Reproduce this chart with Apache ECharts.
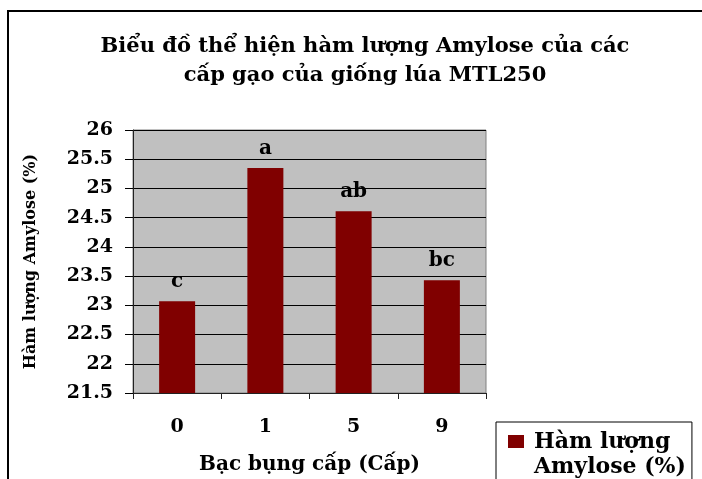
<!DOCTYPE html>
<html><head><meta charset="utf-8">
<script src="https://cdn.jsdelivr.net/npm/echarts@6/dist/echarts.min.js"></script>
<style>html,body{margin:0;padding:0;background:#fff}#c{width:702px;height:479px}</style>
</head><body><div id="c"></div>
<script>
var categories = ['0', '1', '5', '9'];
var amylose = [23.07, 25.35, 24.61, 23.43];
var letters = ['c', 'a', 'ab', 'bc'];
var yTicks = { min: 21.5, max: 26, interval: 0.5 };
var seriesName = 'Hàm lượng\nAmylose (%)';

var F = '"DejaVu Serif", "Liberation Serif", serif';
var chart = echarts.init(document.getElementById('c'), null, { renderer: 'canvas' });
chart.setOption({
  animation: false,
  backgroundColor: '#fff',
  graphic: [{
    type: 'rect', shape: { x: 8, y: 11, width: 720, height: 500 },
    style: { fill: 'none', stroke: '#000', lineWidth: 2 }, silent: true, z: -1
  }],
  title: {
    text: 'Biểu đồ thể hiện hàm lượng Amylose của các\ncấp gạo của giống lúa MTL250',
    left: 360, textAlign: 'center', top: 27,
    textStyle: { fontFamily: F, fontWeight: 'bold', fontSize: 21, lineHeight: 29, color: '#000' }
  },
  legend: {
    left: 496, top: 422,
    orient: 'vertical',
    borderColor: '#000', borderWidth: 1,
    padding: [8, 6, 20, 12],
    itemWidth: 21, itemHeight: 40, itemGap: 10,
    textStyle: { fontFamily: F, fontWeight: 'bold', fontSize: 22, lineHeight: 25, color: '#000' },
    data: [{ name: seriesName, icon: 'path://M0,0L16,0L16,13L0,13Z M0,40L21,40' }]
  },
  grid: { left: 133, top: 130, width: 353, height: 263, containLabel: false,
    outerBoundsMode: 'none',
    show: true, backgroundColor: '#c0c0c0', borderColor: '#808080', borderWidth: 1 },
  xAxis: {
    type: 'category', data: categories,
    name: 'Bạc bụng cấp (Cấp)', nameLocation: 'middle', nameGap: 62,
    nameTextStyle: { fontFamily: F, fontWeight: 'bold', fontSize: 20, color: '#000' },
    axisLine: { lineStyle: { color: '#222', width: 1 } },
    axisTick: { show: true, length: 6, lineStyle: { color: '#222' } },
    axisLabel: { fontFamily: F, fontWeight: 'bold', fontSize: 19, color: '#000', margin: 25 }
  },
  yAxis: {
    type: 'value', min: yTicks.min, max: yTicks.max, interval: yTicks.interval,
    name: 'Hàm lượng Amylose (%)', nameLocation: 'middle', nameGap: 94, nameRotate: 90,
    nameTextStyle: { fontFamily: F, fontWeight: 'bold', fontSize: 16, color: '#000' },
    axisLine: { show: true, lineStyle: { color: '#222', width: 1 } },
    axisTick: { show: true, length: 8, lineStyle: { color: '#000' } },
    axisLabel: { fontFamily: F, fontWeight: 'bold', fontSize: 19, color: '#000', margin: 20,
      formatter: function (v) { return String(v); } },
    splitLine: { show: true, lineStyle: { color: '#000', width: 1 } }
  },
  series: [{
    name: seriesName, type: 'bar', data: amylose, barWidth: 36,
    itemStyle: { color: '#800000' },
    label: { show: true, position: 'top', distance: 9,
      fontFamily: F, fontWeight: 'bold', fontSize: 20, color: '#000',
      formatter: function (p) { return letters[p.dataIndex]; } }
  }]
});
</script></body></html>
